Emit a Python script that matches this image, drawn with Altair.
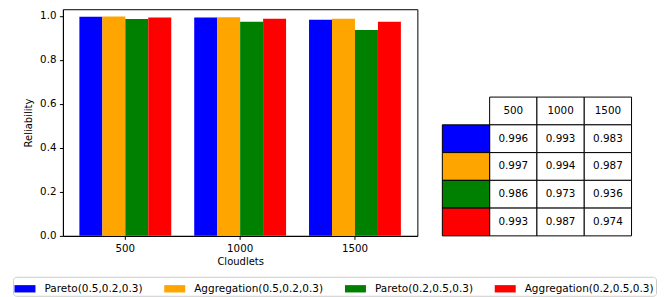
import altair as alt
import pandas as pd

cloudlets = ["500", "1000", "1500"]
methods = [
    "Pareto(0.5,0.2,0.3)",
    "Aggregation(0.5,0.2,0.3)",
    "Pareto(0.2,0.5,0.3)",
    "Aggregation(0.2,0.5,0.3)",
]
colors = ["#0000ff", "#ffa500", "#008000", "#ff0000"]
pareto_a = [0.996, 0.993, 0.983]
aggr_a = [0.997, 0.994, 0.987]
pareto_b = [0.986, 0.973, 0.936]
aggr_b = [0.993, 0.987, 0.974]
series = [pareto_a, aggr_a, pareto_b, aggr_b]
y_ticks = [0.0, 0.2, 0.4, 0.6, 0.8, 1.0]

FONT = "DejaVu Sans"
PLOT_H = 227
ROW_H = 27.8

rows = []
for m, vals in zip(methods, series):
    for c, v in zip(cloudlets, vals):
        rows.append({"Cloudlets": c, "Method": m, "Reliability": v})
df = pd.DataFrame(rows)

legend = alt.Legend(
    orient="none", legendX=-50, legendY=268, direction="horizontal",
    columns=4, title=None, symbolType="M-1,-0.35H1V0.35H-1Z", symbolSize=441,
    symbolStrokeWidth=0, labelFontSize=10.5, labelFont=FONT, labelColor="black",
    labelOffset=9, columnPadding=21, padding=1.5, strokeColor="#cccccc",
    fillColor="white", cornerRadius=3,
)
color = alt.Color("Method:N", scale=alt.Scale(domain=methods, range=colors), legend=legend)

bars = alt.Chart(df).mark_bar().encode(
    x=alt.X("Cloudlets:N", sort=cloudlets,
            scale=alt.Scale(paddingInner=0.2, paddingOuter=0.1435),
            axis=alt.Axis(labelAngle=0, title="Cloudlets", labelPadding=4, titlePadding=3)),
    xOffset=alt.XOffset("Method:N", sort=methods, scale=alt.Scale(paddingInner=0, paddingOuter=0)),
    y=alt.Y("Reliability:Q", scale=alt.Scale(domain=[0, 1.0304], nice=False, zero=True),
            axis=alt.Axis(values=y_ticks, format=".1f", grid=False, title="Reliability",
                          labelPadding=3.5, titlePadding=6)),
    color=color,
).properties(width=355, height=PLOT_H)

# table data
row_h_units = PLOT_H / ROW_H
cells = []
header = []
n = len(methods)
for j, c in enumerate(cloudlets):
    header.append({"x0": j + 1, "x1": j + 2, "y0": n, "y1": n + 1,
                   "xc": j + 1.5, "yc": n + 0.5, "label": c})
swatches = []
for i, (m, vals) in enumerate(zip(methods, series)):
    r = n - 1 - i
    swatches.append({"x0": 0, "x1": 1, "y0": r, "y1": r + 1, "Method": m})
    for j, v in enumerate(vals):
        cells.append({"x0": j + 1, "x1": j + 2, "y0": r, "y1": r + 1,
                      "xc": j + 1.5, "yc": r + 0.5, "label": f"{v:.3f}"})
tdf = pd.DataFrame(header + cells)
sdf = pd.DataFrame(swatches)

xs = alt.Scale(domain=[0, 4], nice=False, zero=False)
ys = alt.Scale(domain=[0, row_h_units], nice=False, zero=False)

white = alt.Chart(tdf).mark_rect(fill="white", stroke="black", strokeWidth=1).encode(
    x=alt.X("x0:Q", scale=xs, axis=None), x2="x1:Q",
    y=alt.Y("y0:Q", scale=ys, axis=None), y2="y1:Q",
)
sw = alt.Chart(sdf).mark_rect(stroke="black", strokeWidth=1, opacity=1).encode(
    x=alt.X("x0:Q", scale=xs, axis=None), x2="x1:Q",
    y=alt.Y("y0:Q", scale=ys, axis=None), y2="y1:Q",
    color=color,
)
txt = alt.Chart(tdf).mark_text(fontSize=10.4, font=FONT, color="black").encode(
    x=alt.X("xc:Q", scale=xs, axis=None),
    y=alt.Y("yc:Q", scale=ys, axis=None),
    text="label:N",
)
table = alt.layer(white, sw, txt).properties(
    width=189.5, height=PLOT_H, view=alt.ViewBackground(strokeOpacity=0)
)

chart = alt.hconcat(bars, table, spacing=23).resolve_scale(
    x="independent", y="independent"
).properties(
    padding={"top": 0, "left": 4, "right": 0, "bottom": 0}
).configure(font=FONT).configure_view(stroke="black", strokeWidth=1).configure_axis(
    labelColor="black", titleColor="black", tickColor="black", domainColor="black",
    labelFontSize=10.3, titleFontSize=10, titleFontWeight="normal", tickSize=3.5,
    labelFont=FONT, titleFont=FONT,
)

chart.save("out.html", embed_options={"renderer": "svg", "actions": False})
